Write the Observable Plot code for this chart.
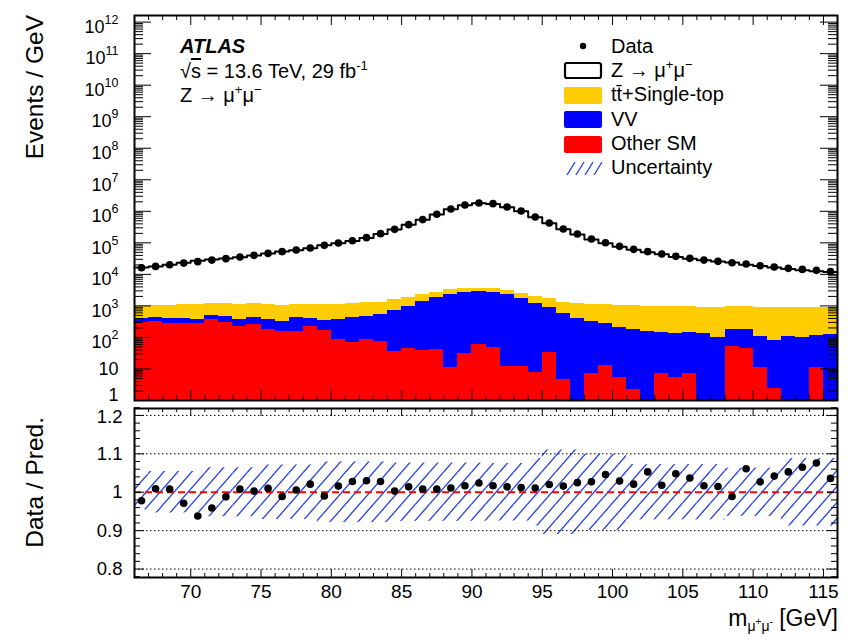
<!DOCTYPE html>
<html>
<head>
<meta charset="utf-8">
<script src="https://cdn.jsdelivr.net/npm/d3@7"></script>
<script src="https://cdn.jsdelivr.net/npm/@observablehq/plot@0.6"></script>
<style>
  html, body { margin: 0; padding: 0; background: #fff; }
  #chart { position: relative; width: 853px; height: 640px; overflow: hidden; background: #fff; }
  #chart > svg { position: absolute; left: 0; }
</style>
</head>
<body>
<div id="chart"></div>
<script>
const FONT = "'Liberation Sans', Arial, Helvetica, sans-serif";

// Dimuon invariant mass bins: lower edges in GeV, 1 GeV wide
const massLow = [66,67,68,69,70,71,72,73,74,75,76,77,78,79,80,81,82,83,84,85,
                 86,87,88,89,90,91,92,93,94,95,96,97,98,99,100,101,102,103,104,105,
                 106,107,108,109,110,111,112,113,114,115];

// Observed events / GeV
const events = [16300,17900,20300,22800,25300,28400,31500,35400,40100,46400,
                52500,59000,68400,83300,98600,117000,146000,196000,268000,378000,
                546000,804000,1180000,1580000,1830000,1750000,1370000,1020000,661000,426000,
                275000,190000,132000,101000,77400,62200,52500,44100,37300,32200,
                28400,25900,23400,21300,18800,17100,15500,14400,13400,12400];

// Background components (events / GeV), stacked bottom to top
const otherSM = [306,316,272,272,272,373,306,229,259,179,
                 155,158,223,162,84,71,86,75,36,46,
                 39,40,11.4,32,58,49,12.3,12.3,7.9,33,
                 4.6,0,7.4,13,5.5,2.3,0,7,5.3,7.4,
                 0,0,52,44,11,2.4,0,0,11.4,0];
const dibosonVV = [104,126,120,120,101,127,158,135,162,203,
                   175,274,169,185,280,371,378,462,683,942,
                   1381,1865,2309,2718,2822,2701,2308,1678,1167,838,
                   557,410,315,259,208,173,158,141,126,134,
                   137,102,123,131,99,78,107,98,101,120];
const topTT = [627,620,670,697,743,700,736,779,751,734,
               732,657,751,796,779,730,796,754,852,829,
               840,845,940,760,800,760,780,740,825,819,
               762,820,794,817,824,837,830,816,810,800,
               781,816,789,766,786,795,768,777,784,755];

// Data / prediction and relative prediction uncertainty
const dataOverPred = [0.978,1.009,1.008,0.971,0.938,0.959,0.988,1.008,1.003,1.010,
                      0.989,1.006,1.021,0.990,1.016,1.028,1.030,1.028,1.003,1.014,
                      1.008,1.008,1.011,1.017,1.024,1.017,1.014,1.012,1.011,1.020,
                      1.016,1.025,1.027,1.046,1.029,1.021,1.053,1.018,1.048,1.037,
                      1.017,1.015,0.989,1.061,1.027,1.042,1.053,1.065,1.076,1.036];
const relUncertainty = [0.046,0.054,0.054,0.054,0.054,0.064,0.064,0.064,0.064,0.071,
                        0.071,0.071,0.071,0.079,0.079,0.079,0.079,0.079,0.076,0.076,
                        0.076,0.076,0.076,0.076,0.076,0.075,0.075,0.075,0.088,0.110,
                        0.110,0.110,0.099,0.099,0.099,0.072,0.072,0.072,0.072,0.072,
                        0.072,0.072,0.063,0.063,0.063,0.063,0.088,0.088,0.088,0.088];

// Axis ticks and labels
const yMajorTicks = [1,1e1,1e2,1e3,1e4,1e5,1e6,1e7,1e8,1e9,1e10,1e11,1e12];
const yMajorLabels = ["1","10","10^2","10^3","10^4","10^5","10^6","10^7","10^8","10^9","10^10","10^11","10^12"];
const massTicks = [70,75,80,85,90,95,100,105,110,115];
const ratioTicks = [0.8,0.9,1,1.1,1.2];
const ratioLabels = ["0.8","0.9","1","1.1","1.2"];

// Legend
const legendNames = ["Data", "Z \u2192 \u03bc+\u03bc\u2212", "tt\u0304+Single-top", "VV", "Other SM", "Uncertainty"];
const colors = {top: "#ffcc00", vv: "#0000ff", other: "#ff0000", hatch: "#2a45ea"};

// ---- derived per-bin records ----
const bins = massLow.map((lo, i) => {
  const red = otherSM[i];
  const vvTop = red + dibosonVV[i];
  const ttTop = vvTop + topTT[i];
  return {lo, hi: lo + 1, mid: lo + 0.5, data: events[i], red, vvTop, ttTop,
          pred: events[i] / dataOverPred[i], ratio: dataOverPred[i], unc: relUncertainty[i]};
});
const stepPts = bins.map(b => ({x: b.lo, y: b.pred}));
stepPts.push({x: bins[bins.length - 1].hi, y: bins[bins.length - 1].pred});

const yMinorTicks = [];
for (let k = 0; k < 12; k++) for (let m = 2; m <= 9; m++) yMinorTicks.push(m * Math.pow(10, k));
const massMinor = massLow.filter(v => v % 5 !== 0 && v > 66);
const ratioMinor = [];
for (let v = 78; v <= 122; v += 2) if (v % 10 !== 0) ratioMinor.push(v / 100);

const yLabelOf = new Map(yMajorTicks.map((t, i) => [t, yMajorLabels[i]]));
const rLabelOf = new Map(ratioTicks.map((t, i) => [t, ratioLabels[i]]));

// ---- geometry ----
const W = 853;
const ML = 134, MR = 16;
const FW = W - ML - MR;           // frame width
const TOP_H = 405, TOP_MT = 15, TOP_MB = 5;
const TFH = TOP_H - TOP_MT - TOP_MB;
const BOT_Y = 403, BOT_H = 237, BOT_MT = 5, BOT_MB = 63;
const BFH = BOT_H - BOT_MT - BOT_MB;

const baseStyle = {fontFamily: FONT, fontSize: "20px", background: "transparent", overflow: "visible", color: "black"};

// ---- main panel ----
const topPlot = Plot.plot({
  width: W, height: TOP_H,
  marginLeft: ML, marginRight: MR, marginTop: TOP_MT, marginBottom: TOP_MB,
  style: baseStyle,
  x: {domain: [66, 116], axis: null},
  y: {type: "log", domain: [1, Math.pow(10, 12.21)], axis: null},
  marks: [
    Plot.rect(bins.filter(b => b.red > 0), {x1: "lo", x2: "hi", y1: () => 1, y2: "red", fill: colors.other, shapeRendering: "crispEdges"}),
    Plot.rect(bins, {x1: "lo", x2: "hi", y1: b => Math.max(b.red, 1), y2: "vvTop", fill: colors.vv, shapeRendering: "crispEdges"}),
    Plot.rect(bins, {x1: "lo", x2: "hi", y1: "vvTop", y2: "ttTop", fill: colors.top, shapeRendering: "crispEdges"}),
    Plot.line(stepPts, {x: "x", y: "y", curve: "step-after", stroke: "black", strokeWidth: 2}),
    Plot.dot(bins, {x: "mid", y: "data", r: 3.8, fill: "black"}),
    // inward ticks on all four sides
    Plot.tickY(yMajorTicks, {y: d => d, insetRight: FW - 17, stroke: "black"}),
    Plot.tickY(yMajorTicks, {y: d => d, insetLeft: FW - 17, stroke: "black"}),
    Plot.tickY(yMinorTicks, {y: d => d, insetRight: FW - 9, stroke: "black"}),
    Plot.tickY(yMinorTicks, {y: d => d, insetLeft: FW - 9, stroke: "black"}),
    Plot.tickX(massTicks, {x: d => d, insetTop: TFH - 10, stroke: "black"}),
    Plot.tickX(massTicks, {x: d => d, insetBottom: TFH - 10, stroke: "black"}),
    Plot.tickX(massMinor, {x: d => d, insetTop: TFH - 5, stroke: "black"}),
    Plot.tickX(massMinor, {x: d => d, insetBottom: TFH - 5, stroke: "black"}),
    Plot.axisY(yMajorTicks, {tickSize: 0, tickPadding: 16, tickFormat: d => yLabelOf.get(d), fontSize: 18, label: null}),
    Plot.frame({stroke: "black", strokeWidth: 2})
  ]
});
topPlot.style.top = "0px";
document.getElementById("chart").appendChild(topPlot);

// superscript exponents on the log-axis labels
d3.select(topPlot).selectAll('g[aria-label="y-axis tick label"] text').each(function () {
  const s = this.textContent;
  const t = d3.select(this);
  if (s === "1") { t.text(null); t.append("tspan").attr("dy", -5).text(s); return; }
  if (!s.includes("^")) return;
  const [base, exp] = s.split("^");
  t.text(null);
  t.append("tspan").attr("dy", 5).text(base);
  t.append("tspan").attr("dy", -9).attr("font-size", 12.5).text(exp);
});

// ---- ratio panel ----
const botPlot = Plot.plot({
  width: W, height: BOT_H,
  marginLeft: ML, marginRight: MR, marginTop: BOT_MT, marginBottom: BOT_MB,
  style: baseStyle,
  x: {domain: [66, 116], axis: null},
  y: {domain: [0.778, 1.218], axis: null},
  marks: [
    Plot.rect(bins, {x1: "lo", x2: "hi", y1: b => 1 - b.unc, y2: b => 1 + b.unc, fill: "url(#hatch)"}),
    Plot.ruleY([0.8, 0.9, 1.1, 1.2], {stroke: "black", strokeWidth: 1, strokeDasharray: "1.5,2.5"}),
    Plot.ruleY([1], {stroke: colors.other, strokeWidth: 2.2, strokeDasharray: "7,4"}),
    Plot.dot(bins, {x: "mid", y: "ratio", r: 3.8, fill: "black"}),
    Plot.tickY(ratioTicks, {y: d => d, insetRight: FW - 10, stroke: "black"}),
    Plot.tickY(ratioTicks, {y: d => d, insetLeft: FW - 10, stroke: "black"}),
    Plot.tickY(ratioMinor, {y: d => d, insetRight: FW - 6, stroke: "black"}),
    Plot.tickY(ratioMinor, {y: d => d, insetLeft: FW - 6, stroke: "black"}),
    Plot.tickX(massTicks, {x: d => d, insetTop: BFH - 8, stroke: "black"}),
    Plot.tickX(massTicks, {x: d => d, insetBottom: BFH - 8, stroke: "black"}),
    Plot.tickX(massMinor, {x: d => d, insetTop: BFH - 4, stroke: "black"}),
    Plot.tickX(massMinor, {x: d => d, insetBottom: BFH - 4, stroke: "black"}),
    Plot.axisX(massTicks, {tickSize: 0, tickPadding: 7, fontSize: 19, label: null}),
    Plot.axisY(ratioTicks, {tickSize: 0, tickPadding: 12, tickFormat: d => rLabelOf.get(d), fontSize: 18.5, label: null}),
    Plot.frame({stroke: "black", strokeWidth: 2})
  ]
});
botPlot.style.top = BOT_Y + "px";
document.getElementById("chart").appendChild(botPlot);

// nudge the top ratio label just below the panel edge
d3.select(botPlot).selectAll('g[aria-label="y-axis tick label"] text').each(function () {
  if (this.textContent === "1.2") {
    const t = d3.select(this);
    t.text(null);
    t.append("tspan").attr("dy", 2).text("1.2");
  }
});

// hatch pattern used by the uncertainty band
const pat = d3.select(botPlot).insert("defs", ":first-child")
  .append("pattern").attr("id", "hatch").attr("patternUnits", "userSpaceOnUse")
  .attr("width", 14).attr("height", 16);
pat.append("path").attr("d", "M0,16L14,0M-7,8L7,-8M7,24L21,8")
  .attr("stroke", colors.hatch).attr("stroke-width", 1.4).attr("fill", "none");

// ---- annotations: axis titles, labels, legend ----
const ov = d3.select("#chart").append("svg")
  .attr("width", W).attr("height", 640)
  .style("top", "0px").style("pointer-events", "none")
  .attr("font-family", FONT).attr("fill", "black");

ov.append("text").attr("transform", "translate(43,15) rotate(-90)")
  .attr("text-anchor", "end").attr("font-size", 24.5).text("Events / GeV");
ov.append("text").attr("transform", "translate(43,417) rotate(-90)")
  .attr("text-anchor", "end").attr("font-size", 24.5).text("Data / Pred.");

const xt = ov.append("text").attr("x", 838).attr("y", 626).attr("text-anchor", "end").attr("font-size", 23);
xt.append("tspan").text("m");
xt.append("tspan").attr("font-size", 14).attr("dy", 5).text("\u03bc");
xt.append("tspan").attr("font-size", 10).attr("dy", -6).text("+");
xt.append("tspan").attr("font-size", 14).attr("dy", 6).text("\u03bc");
xt.append("tspan").attr("font-size", 10).attr("dy", -6).text("-");
xt.append("tspan").attr("dy", 1).text(" [GeV]");

ov.append("text").attr("x", 180).attr("y", 53).attr("font-size", 20)
  .attr("font-weight", "bold").attr("font-style", "italic").text("ATLAS");
const l2 = ov.append("text").attr("x", 180).attr("y", 78).attr("font-size", 20);
l2.append("tspan").text("\u221a");
l2.append("tspan").attr("text-decoration", "overline").text("s");
l2.append("tspan").text(" = 13.6 TeV, 29 fb");
l2.append("tspan").attr("font-size", 13).attr("dy", -8).text("-1");
const l3 = ov.append("text").attr("x", 180).attr("y", 102).attr("font-size", 20);
l3.append("tspan").text("Z \u2192 \u03bc");
l3.append("tspan").attr("font-size", 13).attr("dy", -8).text("+");
l3.append("tspan").attr("dy", 8).text("\u03bc");
l3.append("tspan").attr("font-size", 13).attr("dy", -8).text("\u2212");

// legend
const LX = 611;
const rowY = [53, 77, 101, 126, 150, 174];
ov.append("circle").attr("cx", 583).attr("cy", 46).attr("r", 3.2).attr("fill", "black");
ov.append("rect").attr("x", 565).attr("y", 63).attr("width", 36).attr("height", 15).attr("rx", 2)
  .attr("fill", "white").attr("stroke", "black").attr("stroke-width", 2.2);
[[colors.top, 87], [colors.vv, 111], [colors.other, 136]].forEach(([c, y]) => {
  ov.append("rect").attr("x", 564).attr("y", y).attr("width", 38).attr("height", 17).attr("rx", 2).attr("fill", c);
});
for (let j = 0; j < 4; j++) {
  ov.append("line").attr("x1", 567 + 9 * j).attr("y1", 175).attr("x2", 575 + 9 * j).attr("y2", 162)
    .attr("stroke", colors.hatch).attr("stroke-width", 1.4);
}
legendNames.forEach((name, i) => {
  const t = ov.append("text").attr("x", LX).attr("y", rowY[i]).attr("font-size", 20);
  if (i === 1) {
    t.append("tspan").text("Z \u2192 \u03bc");
    t.append("tspan").attr("font-size", 13).attr("dy", -8).text("+");
    t.append("tspan").attr("dy", 8).text("\u03bc");
    t.append("tspan").attr("font-size", 13).attr("dy", -8).text("\u2212");
  } else {
    t.text(name);
  }
});
</script>
</body>
</html>
